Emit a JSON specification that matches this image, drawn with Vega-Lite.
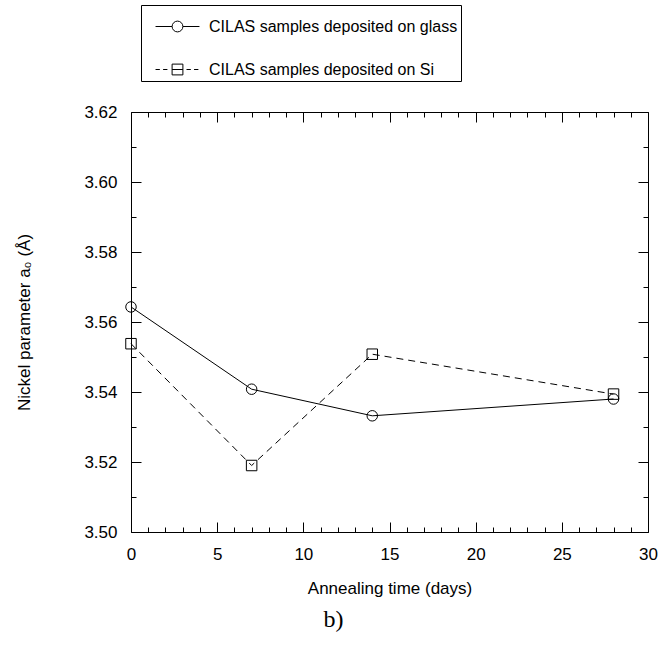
{
  "$schema": "https://vega.github.io/schema/vega-lite/v6.json",
  "width": 517,
  "height": 420,
  "autosize": {"type": "none"},
  "padding": {"left": 131, "top": 112, "right": 12, "bottom": 116},
  "background": "white",
  "config": {
    "font": "Liberation Sans",
    "view": {"stroke": null},
    "axis": {
      "grid": false,
      "domainColor": "black",
      "domainWidth": 1,
      "tickColor": "black",
      "tickWidth": 1,
      "labelColor": "black",
      "titleColor": "black",
      "labelFont": "Liberation Sans",
      "titleFont": "Liberation Sans",
      "labelFontSize": 17,
      "titleFontSize": 17,
      "titleFontWeight": "normal",
      "labelOverlap": false,
      "labelFlush": false,
      "labelBound": false
    }
  },
  "title": {
    "text": "b)",
    "orient": "bottom",
    "anchor": "middle",
    "font": "Liberation Serif",
    "fontSize": 24,
    "fontWeight": "normal",
    "color": "black",
    "offset": 12,
    "dx": -56
  },
  "data": {
    "values": [
      {"series": "CILAS samples deposited on glass", "days": 0, "a0": 3.5643},
      {"series": "CILAS samples deposited on glass", "days": 7, "a0": 3.5408},
      {"series": "CILAS samples deposited on glass", "days": 14, "a0": 3.5332},
      {"series": "CILAS samples deposited on glass", "days": 28, "a0": 3.538},
      {"series": "CILAS samples deposited on Si", "days": 0, "a0": 3.5538},
      {"series": "CILAS samples deposited on Si", "days": 7, "a0": 3.519},
      {"series": "CILAS samples deposited on Si", "days": 14, "a0": 3.5508},
      {"series": "CILAS samples deposited on Si", "days": 28, "a0": 3.5394}
    ]
  },
  "layer": [
    {
      "transform": [{"filter": "datum.series === 'CILAS samples deposited on glass'"}],
      "mark": {"type": "line", "color": "black", "strokeWidth": 1},
      "encoding": {
        "x": {
          "field": "days",
          "type": "quantitative",
          "scale": {"domain": [0, 30], "nice": false, "zero": false},
          "axis": {
            "orient": "bottom",
            "values": [0,1,2,3,4,5,6,7,8,9,10,11,12,13,14,15,16,17,18,19,20,21,22,23,24,25,26,27,28,29,30],
            "labelExpr": "datum.value % 5 == 0 ? datum.label : ''",
            "tickSize": {"condition": {"test": "datum.value % 5 == 0", "value": -10}, "value": -5},
            "labelPadding": 24,
            "title": "Annealing time (days)",
            "titlePadding": 13
          }
        },
        "y": {
          "field": "a0",
          "type": "quantitative",
          "scale": {"domain": [3.5, 3.62], "nice": false, "zero": false},
          "axis": {
            "orient": "left",
            "values": [3.5,3.51,3.52,3.53,3.54,3.55,3.56,3.57,3.58,3.59,3.6,3.61,3.62],
            "labelExpr": "round(datum.value*100) % 2 == 0 ? format(datum.value, '.2f') : ''",
            "tickSize": {"condition": {"test": "round(datum.value*100) % 2 == 0", "value": -10}, "value": -5},
            "labelPadding": 24,
            "title": "Nickel parameter a₀ (Å)",
            "titlePadding": 50
          }
        }
      }
    },
    {
      "transform": [{"filter": "datum.series === 'CILAS samples deposited on Si'"}],
      "mark": {"type": "line", "color": "black", "strokeWidth": 1, "strokeDash": [7, 5]},
      "encoding": {
        "x": {"field": "days", "type": "quantitative", "axis": null},
        "y": {"field": "a0", "type": "quantitative", "axis": null}
      }
    },
    {
      "mark": {"type": "point", "filled": false, "color": "black", "size": 110, "strokeWidth": 1, "opacity": 1},
      "encoding": {
        "x": {
          "field": "days",
          "type": "quantitative",
          "axis": {
            "orient": "top",
            "values": [0,1,2,3,4,5,6,7,8,9,10,11,12,13,14,15,16,17,18,19,20,21,22,23,24,25,26,27,28,29,30],
            "labels": false,
            "title": null,
            "tickSize": {"condition": {"test": "datum.value % 5 == 0", "value": -10}, "value": -5}
          }
        },
        "y": {
          "field": "a0",
          "type": "quantitative",
          "axis": {
            "orient": "right",
            "values": [3.5,3.51,3.52,3.53,3.54,3.55,3.56,3.57,3.58,3.59,3.6,3.61,3.62],
            "labels": false,
            "title": null,
            "tickSize": {"condition": {"test": "round(datum.value*100) % 2 == 0", "value": -10}, "value": -5}
          }
        },
        "shape": {
          "field": "series",
          "type": "nominal",
          "scale": {
            "domain": ["CILAS samples deposited on glass", "CILAS samples deposited on Si"],
            "range": ["circle", "square"]
          },
          "legend": null
        }
      }
    },
    {
      "mark": {"type": "point", "filled": false, "color": "black", "size": 1296, "strokeWidth": 1, "opacity": 0},
      "encoding": {
        "x": {"field": "days", "type": "quantitative", "axis": null},
        "y": {"field": "a0", "type": "quantitative", "axis": null},
        "shape": {
          "field": "series",
          "type": "nominal",
          "scale": {
            "domain": ["CILAS samples deposited on glass", "CILAS samples deposited on Si"],
            "range": [
              "M-1.22,0H-0.3M0.3,0H1.22M-0.3,0A0.3,0.3,0,1,0,0.3,0A0.3,0.3,0,1,0,-0.3,0",
              "M-1.22,0H-0.98M-0.8,0H-0.56M-0.3,-0.3H0.3V0.3H-0.3ZM-0.3,0H0.3M0.5,0H0.74M0.92,0H1.16"
            ]
          },
          "legend": {
            "title": null,
            "orient": "none",
            "legendX": 10,
            "legendY": -107,
            "strokeColor": "black",
            "fillColor": "white",
            "padding": 3,
            "rowPadding": 16,
            "symbolSize": 1296,
            "symbolOffset": 15,
            "labelOffset": 13,
            "symbolStrokeWidth": 1,
            "symbolOpacity": 1,
            "symbolStrokeColor": "black",
            "symbolFillColor": "transparent",
            "labelFont": "Liberation Sans",
            "labelFontSize": 16,
            "labelColor": "black",
            "labelLimit": 500,
            "labelExpr": "datum.label + '\u00a0\u00a0\u00a0\u00a0\u00a0\u00a0\u00a0\u00a0\u00a0\u00a0'"
          }
        }
      }
    }
  ],
  "resolve": {
    "axis": {"x": "independent", "y": "independent"},
    "scale": {"shape": "independent"}
  }
}
